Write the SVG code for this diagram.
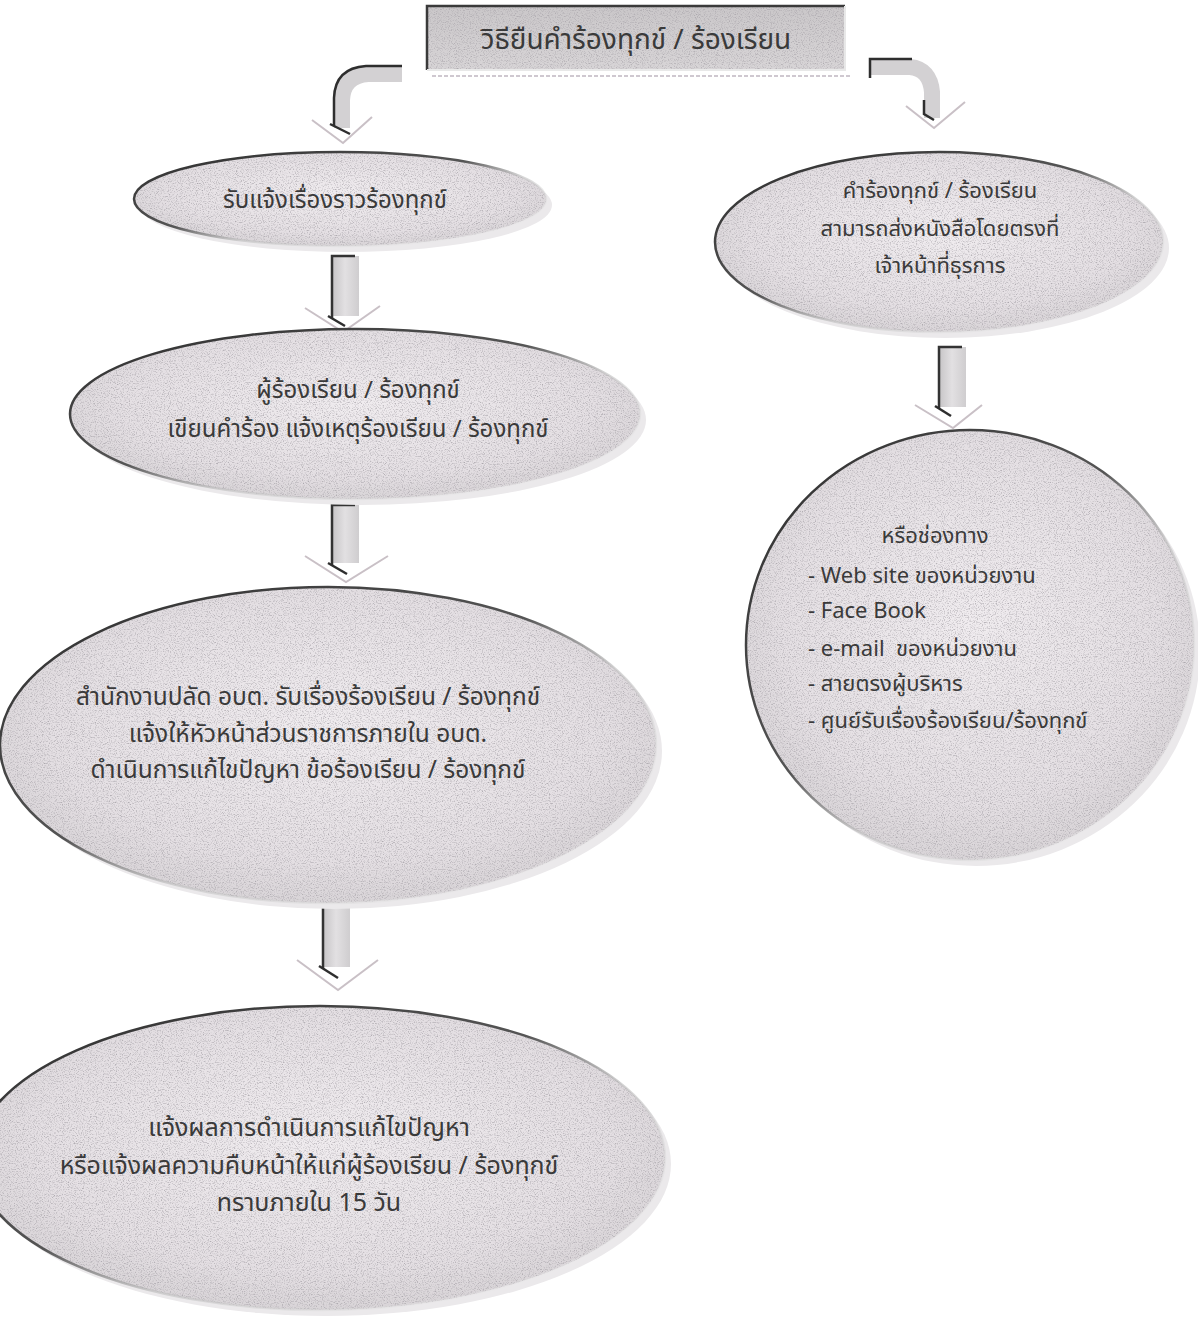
<svg xmlns="http://www.w3.org/2000/svg" width="1198" height="1317" viewBox="0 0 1198 1317">
<defs>
<style>
.t{font-family:"Noto Sans Thai","Noto Sans","DejaVu Sans",sans-serif;fill:#3a3a3a;text-anchor:middle;font-size:22px}
.l{text-anchor:start}
.bg{fill:url(#fillg)}
.sh{fill:#ebe9eb}
.rim{fill:none;stroke:url(#rimg);stroke-width:2.5}
.grain{fill:#000;filter:url(#grain)}
.shaft{fill:url(#shaftg);stroke:none}
.shaftedge{stroke:#333;stroke-width:2.5;fill:none}
.chev{fill:none;stroke:#c9c0c6;stroke-width:2}
.band{fill:none;stroke:#d3d1d3;stroke-width:16}
.bandedge{fill:none;stroke:#2e2e2e;stroke-width:2.5}
</style>
<radialGradient id="fillg" cx="50%" cy="45%" r="60%">
<stop offset="0" stop-color="#f0ecef"/>
<stop offset="0.7" stop-color="#e4dfe3"/>
<stop offset="1" stop-color="#d4d0d3"/>
</radialGradient>
<linearGradient id="rimg" x1="0" y1="0" x2="1" y2="1">
<stop offset="0" stop-color="#2a2a2a"/>
<stop offset="0.45" stop-color="#555"/>
<stop offset="0.6" stop-color="#bbb" stop-opacity="0.6"/>
<stop offset="1" stop-color="#fff" stop-opacity="0"/>
</linearGradient>
<linearGradient id="shaftg" x1="0" y1="0" x2="1" y2="0">
<stop offset="0" stop-color="#c4c2c4"/>
<stop offset="0.5" stop-color="#e2e0e2"/>
<stop offset="1" stop-color="#cfcdcf"/>
</linearGradient>
<linearGradient id="titleg" x1="0" y1="0" x2="0" y2="1">
<stop offset="0" stop-color="#cac7c9"/>
<stop offset="1" stop-color="#d8d5d7"/>
</linearGradient>
<filter id="grain" x="0" y="0" width="100%" height="100%">
<feTurbulence type="fractalNoise" baseFrequency="0.85" numOctaves="2" seed="7" result="n"/>
<feColorMatrix in="n" type="matrix" values="0 0 0 0 0.38  0 0 0 0 0.36  0 0 0 0 0.39  -2.2 0 0 0 1.15" result="s"/>
<feComposite in="s" in2="SourceGraphic" operator="in"/>
</filter>
</defs>
<rect width="1198" height="1317" fill="#ffffff"/>

<g id="connectors">
  <!-- left curved arrow -->
  <path class="band" d="M402,74 L368,74 Q343,76 342,100 L342,128"/>
  <path class="bandedge" d="M402,66 L366,66 Q335,68 334,98 L334,126"/>
  <path class="bandedge" d="M330,124 L350,134"/>
  <path class="chev" d="M312,120 L343,143 L372,117"/>
  <!-- right curved arrow -->
  <path class="band" d="M870,67 L910,67 Q930,69 932,92 L932,118"/>
  <path class="bandedge" d="M870,78 L870,59 L912,59"/>
  <path class="bandedge" d="M924,100 L924,114 L934,120"/>
  <path class="chev" d="M906,106 L934,128 L965,102"/>
  <!-- straight arrows -->
  <rect class="shaft" x="331" y="256" width="28" height="60"/>
  <path class="shaftedge" d="M332,318 L332,256 L355,256"/>
  <path class="bandedge" d="M328,316 L345,326"/>
  <path class="chev" d="M305,308 L343,332 L380,306"/>

  <rect class="shaft" x="331" y="505" width="28" height="58"/>
  <path class="shaftedge" d="M332,565 L332,505 L355,505"/>
  <path class="bandedge" d="M328,563 L347,574"/>
  <path class="chev" d="M305,556 L346,582 L388,556"/>

  <rect class="shaft" x="322" y="905" width="28" height="62"/>
  <path class="shaftedge" d="M323,969 L323,905 L346,905"/>
  <path class="bandedge" d="M319,966 L338,978"/>
  <path class="chev" d="M297,960 L338,990 L378,960"/>

  <rect class="shaft" x="938" y="347" width="28" height="60"/>
  <path class="shaftedge" d="M939,409 L939,347 L962,347"/>
  <path class="bandedge" d="M935,406 L951,416"/>
  <path class="chev" d="M915,405 L953,428 L982,405"/>
</g>

<g id="title">
  <rect x="427" y="6" width="418" height="64" fill="url(#titleg)"/>
  <rect class="grain" x="427" y="6" width="418" height="64"/>
  <path d="M427,70 L427,6 L845,6" fill="none" stroke="#3a3a3a" stroke-width="2.5"/>
  <path d="M845,6 L845,70 L427,70" fill="none" stroke="#e8e8e8" stroke-width="2"/>
  <path d="M432,76 L852,76" fill="none" stroke="#cfc8d0" stroke-width="2" stroke-dasharray="4 2"/>
  <text class="t" x="636" y="49" style="font-size:28px">วิธียืนคำร้องทุกข์ / ร้องเรียน</text>
</g>

<g id="n1">
  <ellipse class="sh" cx="346" cy="205" rx="206" ry="47"/>
  <ellipse class="bg" cx="340" cy="199" rx="206" ry="47"/>
  <ellipse class="grain" cx="340" cy="199" rx="206" ry="47"/>
  <ellipse class="rim" cx="340" cy="199" rx="206" ry="47"/>
  <text class="t" x="335" y="208" style="font-size:24px">รับแจ้งเรื่องราวร้องทุกข์</text>
</g>

<g id="n2">
  <ellipse class="sh" cx="361" cy="420" rx="285" ry="85"/>
  <ellipse class="bg" cx="355" cy="414" rx="285" ry="85"/>
  <ellipse class="grain" cx="355" cy="414" rx="285" ry="85"/>
  <ellipse class="rim" cx="355" cy="414" rx="285" ry="85"/>
  <text class="t" x="358" y="398" style="font-size:24px">ผู้ร้องเรียน / ร้องทุกข์</text>
  <text class="t" x="358" y="437" style="font-size:24px">เขียนคำร้อง แจ้งเหตุร้องเรียน / ร้องทุกข์</text>
</g>

<g id="n3">
  <ellipse class="sh" cx="334" cy="751" rx="328" ry="158"/>
  <ellipse class="bg" cx="328" cy="745" rx="328" ry="158"/>
  <ellipse class="grain" cx="328" cy="745" rx="328" ry="158"/>
  <ellipse class="rim" cx="328" cy="745" rx="328" ry="158"/>
  <text class="t" x="308" y="705" style="font-size:24.5px">สำนักงานปลัด อบต. รับเรื่องร้องเรียน / ร้องทุกข์</text>
  <text class="t" x="308" y="742" style="font-size:24.5px">แจ้งให้หัวหน้าส่วนราชการภายใน อบต.</text>
  <text class="t" x="308" y="778" style="font-size:24.5px">ดำเนินการแก้ไขปัญหา ข้อร้องเรียน / ร้องทุกข์</text>
</g>

<g id="n4">
  <ellipse class="sh" cx="326" cy="1164" rx="345" ry="152"/>
  <ellipse class="bg" cx="320" cy="1158" rx="345" ry="152"/>
  <ellipse class="grain" cx="320" cy="1158" rx="345" ry="152"/>
  <ellipse class="rim" cx="320" cy="1158" rx="345" ry="152"/>
  <text class="t" x="309" y="1136" style="font-size:25px">แจ้งผลการดำเนินการแก้ไขปัญหา</text>
  <text class="t" x="309" y="1174" style="font-size:25px">หรือแจ้งผลความคืบหน้าให้แก่ผู้ร้องเรียน / ร้องทุกข์</text>
  <text class="t" x="309" y="1211" style="font-size:25px">ทราบภายใน 15 วัน</text>
</g>

<g id="r1">
  <ellipse class="sh" cx="945" cy="248" rx="224" ry="90"/>
  <ellipse class="bg" cx="939" cy="242" rx="224" ry="90"/>
  <ellipse class="grain" cx="939" cy="242" rx="224" ry="90"/>
  <ellipse class="rim" cx="939" cy="242" rx="224" ry="90"/>
  <text class="t" x="940" y="198">คำร้องทุกข์ / ร้องเรียน</text>
  <text class="t" x="940" y="236">สามารถส่งหนังสือโดยตรงที่</text>
  <text class="t" x="940" y="273">เจ้าหน้าที่ธุรการ</text>
</g>

<g id="r2">
  <ellipse class="sh" cx="976" cy="651" rx="224" ry="215"/>
  <ellipse class="bg" cx="970" cy="645" rx="224" ry="215"/>
  <ellipse class="grain" cx="970" cy="645" rx="224" ry="215"/>
  <ellipse class="rim" cx="970" cy="645" rx="224" ry="215"/>
  <text class="t" x="935" y="543">หรือช่องทาง</text>
  <text class="t l" x="808" y="583">- Web site ของหน่วยงาน</text>
  <text class="t l" x="808" y="618">- Face Book</text>
  <text class="t l" x="808" y="656" xml:space="preserve">- e-mail  ของหน่วยงาน</text>
  <text class="t l" x="808" y="691">- สายตรงผู้บริหาร</text>
  <text class="t l" x="808" y="728">- ศูนย์รับเรื่องร้องเรียน/ร้องทุกข์</text>
</g>
</svg>
